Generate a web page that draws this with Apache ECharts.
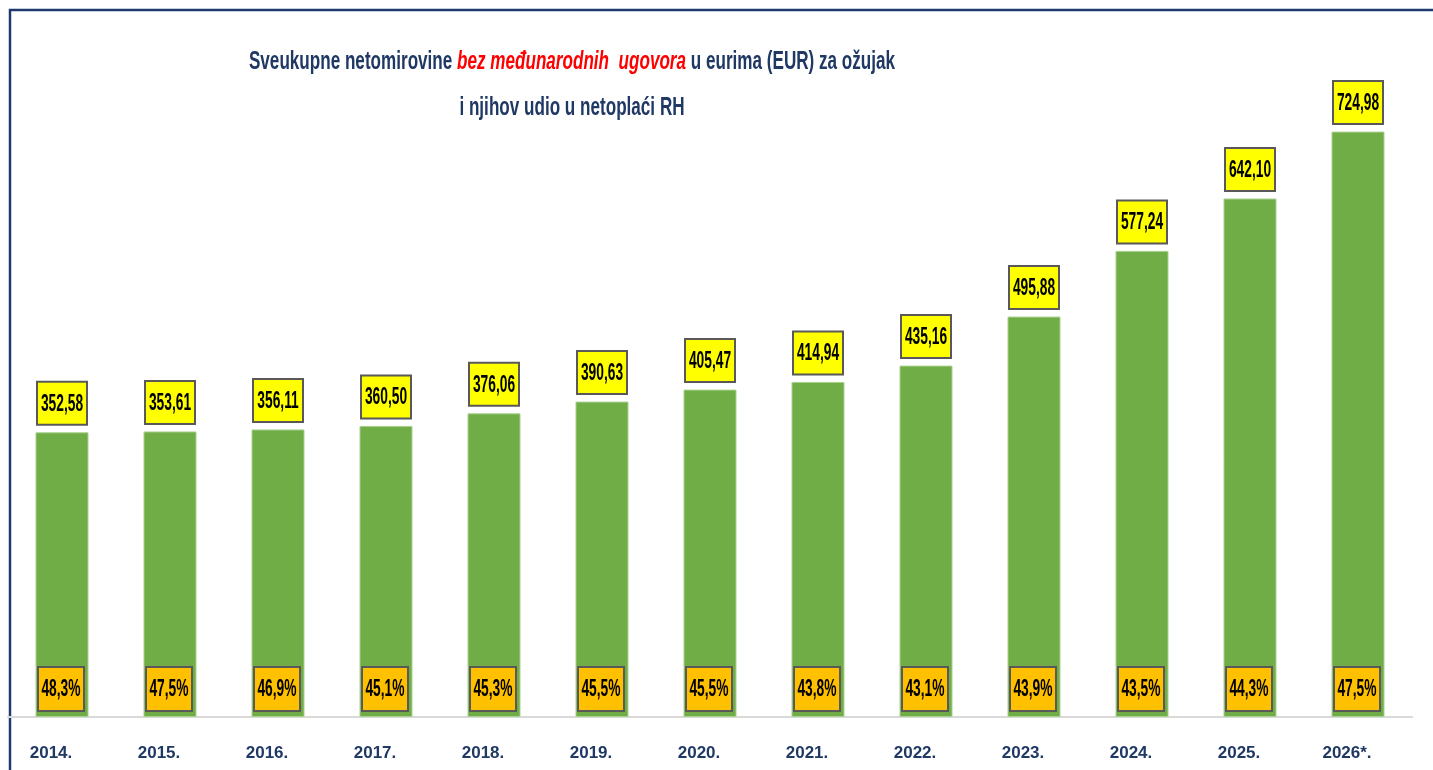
<!DOCTYPE html>
<html>
<head>
<meta charset="utf-8">
<script src="https://cdn.jsdelivr.net/npm/echarts@6/dist/echarts.min.js"></script>
<style>
  html, body { margin: 0; padding: 0; background: #fff; }
  #main { width: 1433px; height: 770px; }
</style>
</head>
<body>
<div id="main"></div>
<script>
var godine = ['2014.', '2015.', '2016.', '2017.', '2018.', '2019.', '2020.', '2021.', '2022.', '2023.', '2024.', '2025.', '2026*.'];
var iznosi = [352.58, 353.61, 356.11, 360.50, 376.06, 390.63, 405.47, 414.94, 435.16, 495.88, 577.24, 642.10, 724.98];
var udjeli = [48.3, 47.5, 46.9, 45.1, 45.3, 45.5, 45.5, 43.8, 43.1, 43.9, 43.5, 44.3, 47.5];

var font = "'Liberation Sans', Arial, sans-serif";

function zarez(v, d) {
    return v.toFixed(d).replace('.', ',');
}

// kućica s tekstom (žuta za iznos, narančasta za udio)
function kucica(cx, cy, w, h, fill, tekst) {
    return [{
        type: 'rect',
        z2: 10,
        shape: { x: cx - w / 2, y: cy - h / 2, width: w, height: h },
        style: { fill: fill, stroke: '#595959', lineWidth: 2 }
    }, {
        type: 'text',
        z2: 11,
        x: cx,
        y: cy + 1,
        scaleX: 0.6,
        style: {
            text: tekst,
            align: 'center',
            verticalAlign: 'middle',
            fill: '#000',
            font: 'bold 23px ' + font
        }
    }];
}

var podaci = iznosi.map(function (v, i) { return [i, v, udjeli[i]]; });

var myChart = echarts.init(document.getElementById('main'));

var option = {
    backgroundColor: '#fff',
    animation: false,
    graphic: [{
        type: 'rect',
        silent: true,
        shape: { x: 10, y: 10, width: 1500, height: 800 },
        style: { fill: 'none', stroke: '#1F3870', lineWidth: 2.5 }
    }, {
        // naslov, sužen vodoravno da liči na Calibri
        type: 'text',
        silent: true,
        x: 572,
        y: 39,
        scaleX: 0.684,
        style: {
            text: '{a|Sveukupne netomirovine }{r|bez međunarodnih  ugovora}{a| u eurima (EUR) za ožujak}\n{a|i njihov udio u netoplaći RH}',
            align: 'center',
            verticalAlign: 'top',
            rich: {
                a: { fontSize: 25, fontWeight: 'bold', fill: '#1F3864', fontFamily: font, lineHeight: 46, align: 'center' },
                r: { fontSize: 25, fontWeight: 'bold', fontStyle: 'italic', fill: '#FF0000', fontFamily: font, lineHeight: 46, align: 'center' }
            }
        }
    }],
    grid: {
        left: 8,
        right: 21,
        top: 71,
        bottom: 53
    },
    xAxis: {
        type: 'category',
        data: godine,
        axisTick: { show: false },
        axisLine: { show: true, lineStyle: { color: '#D9D9D9', width: 2 } },
        axisLabel: {
            margin: 28,
            padding: [0, 22, 0, 0],
            color: '#1F3864',
            fontWeight: 'bold',
            fontSize: 17,
            fontFamily: font
        }
    },
    yAxis: {
        type: 'value',
        show: false,
        min: 0,
        max: 800,
        splitLine: { show: false }
    },
    series: [{
        name: 'iznos',
        type: 'bar',
        barWidth: 53,
        z: 2,
        data: iznosi,
        itemStyle: {
            color: '#70AD47',
            borderColor: '#A9D18E',
            borderWidth: 1
        }
    }, {
        name: 'oznake',
        type: 'custom',
        silent: true,
        z: 5,
        clip: false,
        encode: { x: 0, y: 1 },
        data: podaci,
        renderItem: function (params, api) {
            var vrh = api.coord([api.value(0), api.value(1)]);
            var dno = api.coord([api.value(0), 0]);
            var djeca = kucica(vrh[0], vrh[1] - 29, 50, 43, '#FFFF00', zarez(api.value(1), 2))
                .concat(kucica(vrh[0] - 1, dno[1] - 28, 46, 44, '#FFC000', zarez(api.value(2), 1) + '%'));
            return { type: 'group', children: djeca };
        }
    }]
};

myChart.setOption(option);
</script>
</body>
</html>
